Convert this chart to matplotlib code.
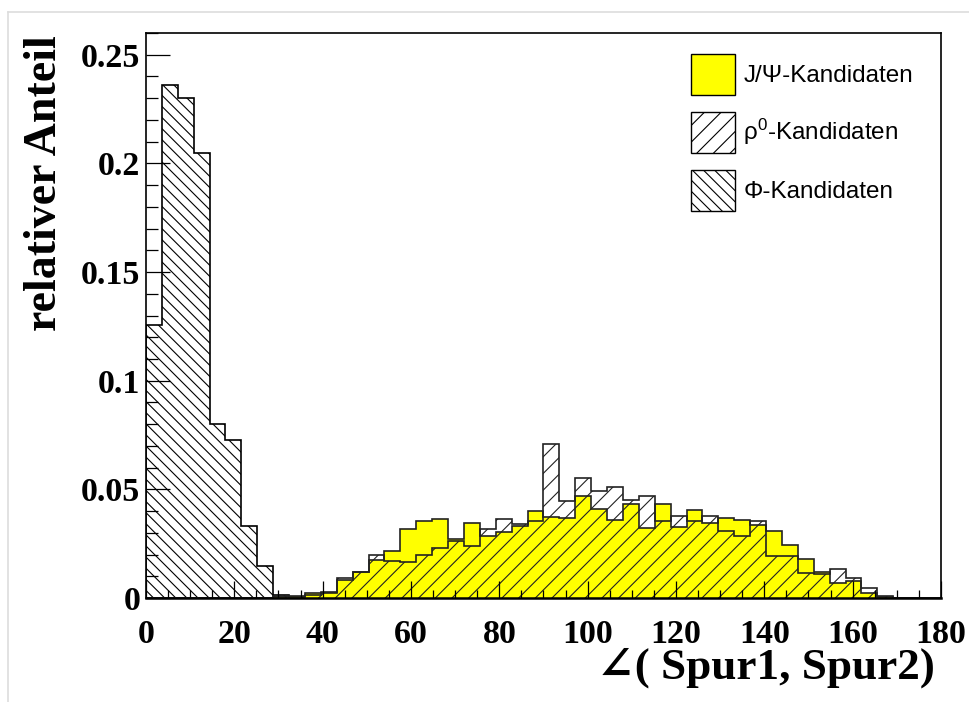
import numpy as np
import matplotlib as mpl
mpl.use('Agg')
import matplotlib.pyplot as plt
from matplotlib.patches import Patch
from matplotlib.lines import Line2D
from matplotlib.ticker import MultipleLocator, FuncFormatter

mpl.rcParams['hatch.linewidth'] = 0.8
mpl.rcParams['mathtext.fontset'] = 'custom'
mpl.rcParams['mathtext.rm'] = 'Liberation Sans'
mpl.rcParams['mathtext.it'] = 'Liberation Sans:italic'

# 50 bins of 3.6 degrees between 0 and 180
bin_edges = np.linspace(0, 180, 51)

# normalised opening-angle distributions per candidate type
jpsi = [0, 0, 0, 0, 0, 0, 0, 0, 0.0004, 0.0008,
        0.0023, 0.0028, 0.0083, 0.0121, 0.0176, 0.0218, 0.0319, 0.0356, 0.0365, 0.0271,
        0.0343, 0.0285, 0.0302, 0.0330, 0.0402, 0.0371, 0.0370, 0.0468, 0.0411, 0.0360,
        0.0431, 0.0322, 0.0431, 0.0325, 0.0405, 0.0346, 0.0366, 0.0359, 0.0334, 0.0310,
        0.0242, 0.0179, 0.0121, 0.0069, 0.0078, 0.0023, 0.0003, 0, 0, 0]
rho = [0, 0, 0, 0, 0, 0, 0, 0, 0.0010, 0.0006,
       0.0012, 0.0022, 0.0090, 0.0121, 0.0196, 0.0172, 0.0164, 0.0198, 0.0230, 0.0262,
       0.0238, 0.0319, 0.0363, 0.0340, 0.0356, 0.0707, 0.0445, 0.0550, 0.0494, 0.0509,
       0.0451, 0.0468, 0.0353, 0.0376, 0.0353, 0.0376, 0.0307, 0.0287, 0.0353, 0.0192,
       0.0192, 0.0115, 0.0112, 0.0133, 0.0090, 0.0048, 0.0008, 0, 0, 0]
phi = [0.1254, 0.2363, 0.2299, 0.2048, 0.0799, 0.0727, 0.0331, 0.0147, 0.0012, 0.0006,
       0, 0, 0, 0, 0, 0, 0, 0, 0, 0,
       0, 0, 0, 0, 0, 0, 0, 0, 0, 0,
       0, 0, 0, 0, 0, 0, 0, 0, 0, 0,
       0, 0, 0, 0, 0, 0, 0, 0, 0, 0]

labels = ['J/\u03a8-Kandidaten', '\u03c1$^{0}$-Kandidaten', '\u03a6-Kandidaten']

W, H = 970, 702
fig = plt.figure(figsize=(W / 100, H / 100), dpi=100)
ax = fig.add_axes([146 / W, 1 - 598 / H, 795 / W, 565 / H])

# pad border
fig.add_artist(Line2D([8 / W, 8 / W], [0, 1 - 12 / H], transform=fig.transFigure,
                      color='#dddddd', lw=1.2))
fig.add_artist(Line2D([8 / W, 1], [1 - 12 / H, 1 - 12 / H], transform=fig.transFigure,
                      color='#dddddd', lw=1.2))

ax.stairs(phi, bin_edges, fill=True, facecolor='none', edgecolor='black',
          hatch='\\\\\\', lw=1.2)
ax.stairs(jpsi, bin_edges, fill=True, facecolor='#ffff00', edgecolor='#222222', lw=1.2)
ax.stairs(rho, bin_edges, fill=True, facecolor='none', edgecolor='#222222',
          hatch='//', lw=1.2)

ax.set_xlim(0, 180)
ax.set_ylim(0, 0.26)

ax.xaxis.set_major_locator(MultipleLocator(20))
ax.xaxis.set_minor_locator(MultipleLocator(5))
ax.yaxis.set_major_locator(MultipleLocator(0.05))
ax.yaxis.set_minor_locator(MultipleLocator(0.01))
ax.yaxis.set_major_formatter(FuncFormatter(lambda v, p: f'{v:g}'))

ax.tick_params(axis='both', which='both', direction='in', top=False, right=False,
               width=0.9, colors='black')
ax.tick_params(axis='y', which='major', length=17.3, pad=4)
ax.tick_params(axis='y', which='minor', length=8.6)
ax.tick_params(axis='x', which='major', length=12.2, pad=15)
ax.tick_params(axis='x', which='minor', length=6.1)
for lab in ax.get_xticklabels() + ax.get_yticklabels():
    lab.set_fontfamily('Liberation Serif')
    lab.set_fontweight('bold')
    lab.set_fontsize(24.5)
for sp in ax.spines.values():
    sp.set_linewidth(1.2)
ax.spines['bottom'].set_linewidth(1.8)

fig.text(45 / W, 1 - 35 / H, 'relativer Anteil', rotation=90, ha='center', va='top',
         family='Liberation Serif', weight='bold', fontsize=33)
fig.text(935 / W, 1 - 668 / H, '\u2220( Spur1, Spur2)', ha='right', va='center',
         family=['Liberation Serif', 'DejaVu Serif'], weight='bold', fontsize=32.5)

handles = [Patch(facecolor='#ffff00', edgecolor='black', lw=1),
           Patch(facecolor='white', edgecolor='black', hatch='//', lw=1),
           Patch(facecolor='white', edgecolor='black', hatch='\\\\\\', lw=1)]
ax.legend(handles, labels, loc='upper left',
          bbox_to_anchor=(691 / W, 1 - 54 / H), bbox_transform=fig.transFigure,
          frameon=False, borderpad=0, borderaxespad=0, handlelength=1.8,
          handleheight=2.22, handletextpad=0.35, labelspacing=0.70,
          prop={'family': 'Liberation Sans', 'size': 17.5})

fig.savefig('out.png', dpi=100)
